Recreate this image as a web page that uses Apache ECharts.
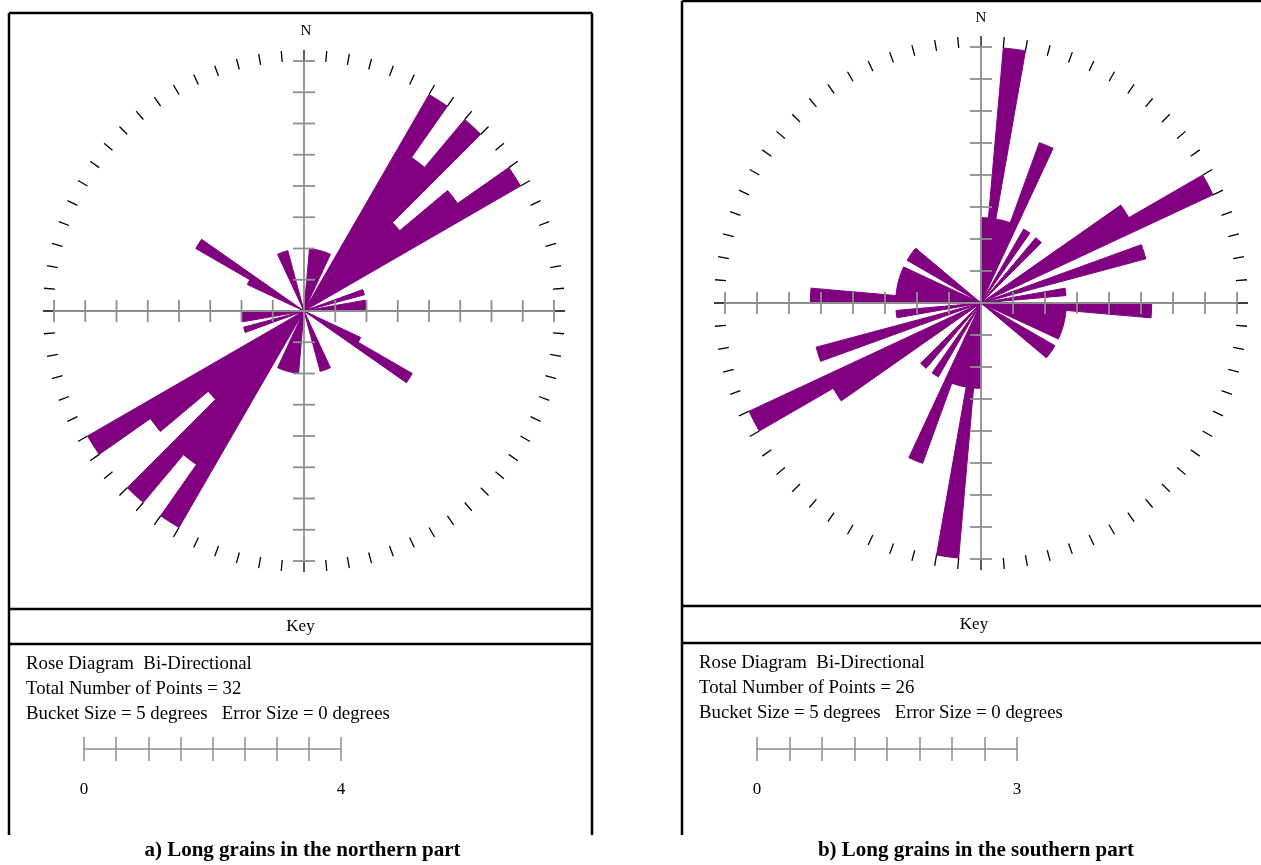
<!DOCTYPE html>
<html>
<head>
<meta charset="utf-8">
<script src="https://cdn.jsdelivr.net/npm/echarts@6/dist/echarts.min.js"></script>
<style>
  html, body { margin: 0; padding: 0; background: #ffffff; }
  #chart { width: 1261px; height: 865px; }
</style>
</head>
<body>
<div id="chart"></div>
<script>
// Rose diagrams, bi-directional, 5 degree buckets.
// Counts are given for the 0-180 degree buckets; each one is mirrored at +180.
const bucketLabels = Array.from({ length: 72 }, (_, i) => String(i * 5));

const northCounts = [
  0, 1, 1, 1, 1, 0, 4, 3, 4, 2, 3, 4,
  0, 0, 1, 0, 1, 1, 0, 0, 0, 0, 0, 1,
  2, 0, 0, 0, 0, 0, 0, 1, 1, 0, 0, 0
];
const southCounts = [
  1, 3, 1, 1, 2, 0, 1, 0, 1, 0, 0, 2,
  3, 0, 2, 0, 1, 0, 2, 1, 1, 1, 1, 0,
  1, 1, 0, 0, 0, 0, 0, 0, 0, 0, 0, 0
];

const northMax = 4;
const southMax = 3;
const northScaleLabels = ['0', '4'];
const southScaleLabels = ['0', '3'];
const northPoints = 32;
const southPoints = 26;
const bucketSize = 5;
const errorSize = 0;
const compassDirections = [0, 90, 180, 270];

const captions = ['a) Long grains in the northern part', 'b) Long grains in the southern part'];

const PURPLE = '#800080';
const GREY = '#8e8e8e';
const SERIF = '"Liberation Serif", "Times New Roman", serif';

// panel layout
const panels = [
  { cx: 304, cy: 311, R: 250, max: northMax, counts: northCounts, labels: northScaleLabels,
    points: northPoints, left: 9, right: 592, top: 13, bottom: 835, keyTop: 609, keyBottom: 644,
    textX: 26, textY: 664, scaleX: 84, scaleW: 257, scaleY: 749, nY: 31, nX: 306 },
  { cx: 981, cy: 303, R: 256, max: southMax, counts: southCounts, labels: southScaleLabels,
    points: southPoints, left: 682, right: 1266, top: 1, bottom: 835, keyTop: 606, keyBottom: 643,
    textX: 699, textY: 663, scaleX: 757, scaleW: 260, scaleY: 749, nY: 18, nX: 981 }
];

function mirrored(counts) {
  return counts.concat(counts);
}

const polar = [], angleAxis = [], radiusAxis = [], series = [];
const grid = [], xAxis = [], yAxis = [], graphic = [];

panels.forEach((p, k) => {
  const barPolar = k * 2, crossPolar = k * 2 + 1;
  polar.push({ center: [p.cx, p.cy], radius: p.R });
  polar.push({ center: [p.cx, p.cy], radius: p.R });

  // direction ring: one tick every bucket
  angleAxis.push({
    polarIndex: barPolar, type: 'category', data: bucketLabels,
    startAngle: 90, clockwise: true, boundaryGap: true,
    axisLine: { show: false },
    axisTick: { show: true, interval: 0, length: 11, lineStyle: { color: '#000', width: 1.3 } },
    axisLabel: { show: false }, splitLine: { show: false }, splitArea: { show: false }
  });
  angleAxis.push({
    polarIndex: crossPolar, type: 'value', min: 0, max: 360,
    startAngle: 90, clockwise: true, show: false
  });
  radiusAxis.push({ polarIndex: barPolar, type: 'value', min: 0, max: p.max, show: false });
  radiusAxis.push({ polarIndex: crossPolar, type: 'value', min: 0, max: p.max, show: false });

  series.push({
    type: 'bar', coordinateSystem: 'polar', polarIndex: barPolar,
    data: mirrored(p.counts), barCategoryGap: '0%', barGap: '0%',
    itemStyle: { color: PURPLE, borderColor: PURPLE, borderWidth: 1 },
    silent: true, animation: false, z: 2
  });

  // N-S and E-W axes with their scale ticks
  const tickValues = Array.from({ length: 8 }, (_, i) => (i + 1) * p.max / 8);
  series.push({
    type: 'custom', coordinateSystem: 'polar', polarIndex: crossPolar,
    data: compassDirections.map(d => [p.max, d]),
    silent: true, animation: false, z: 5,
    renderItem: function (params, api) {
      const dir = api.value(1);
      const o = api.coord([0, dir]);
      const e = api.coord([api.value(0), dir]);
      const len = Math.hypot(e[0] - o[0], e[1] - o[1]) || 1;
      const nx = -(e[1] - o[1]) / len, ny = (e[0] - o[0]) / len;
      const children = [{
        type: 'line', shape: { x1: o[0], y1: o[1], x2: e[0], y2: e[1] },
        style: { stroke: GREY, lineWidth: 1.8 }
      }];
      tickValues.forEach(t => {
        const q = api.coord([t, dir]);
        children.push({
          type: 'line',
          shape: { x1: q[0] - nx * 11, y1: q[1] - ny * 11, x2: q[0] + nx * 11, y2: q[1] + ny * 11 },
          style: { stroke: GREY, lineWidth: 1.8 }
        });
      });
      return { type: 'group', children: children };
    }
  });

  // key scale bar
  grid.push({ left: p.scaleX, width: p.scaleW, top: p.scaleY - 40, height: 40 });
  const gi = grid.length - 1;
  yAxis.push({ gridIndex: gi, type: 'value', min: 0, max: 1, show: false });
  xAxis.push({
    gridIndex: gi, type: 'value', min: 0, max: p.max, interval: p.max / 8, position: 'bottom',
    axisLine: { show: true, onZero: false, lineStyle: { color: GREY, width: 1.5 } },
    axisTick: { show: true, length: 12, lineStyle: { color: GREY, width: 1.5 } },
    axisLabel: {
      show: true, margin: 32, color: '#000', fontFamily: SERIF, fontSize: 17,
      showMinLabel: true, showMaxLabel: true,
      formatter: v => (v === 0 ? p.labels[0] : (Math.abs(v - p.max) < 1e-9 ? p.labels[1] : ''))
    },
    splitLine: { show: false }
  });
  xAxis.push({
    gridIndex: gi, type: 'value', min: 0, max: p.max, interval: p.max / 8, position: 'bottom',
    axisLine: { show: false, onZero: false },
    axisTick: { show: true, inside: true, length: 12, lineStyle: { color: GREY, width: 1.5 } },
    axisLabel: { show: false }, splitLine: { show: false }
  });

  // frame
  const frame = { stroke: '#000', lineWidth: 2.5 };
  graphic.push(
    { type: 'line', shape: { x1: p.left, y1: p.top, x2: p.right, y2: p.top }, style: frame },
    { type: 'line', shape: { x1: p.left, y1: p.top, x2: p.left, y2: p.bottom }, style: frame },
    { type: 'line', shape: { x1: p.right, y1: p.top, x2: p.right, y2: p.bottom }, style: frame },
    { type: 'line', shape: { x1: p.left, y1: p.keyTop, x2: p.right, y2: p.keyTop }, style: frame },
    { type: 'line', shape: { x1: p.left, y1: p.keyBottom, x2: p.right, y2: p.keyBottom }, style: frame }
  );

  const txt = (x, y, text, size, align, weight) => ({
    type: 'text', x: x, y: y, z: 10,
    style: { text: text, fill: '#000', font: (weight || 'normal') + ' ' + size + 'px ' + SERIF,
             textAlign: align, textVerticalAlign: 'middle' }
  });
  graphic.push(
    txt(p.nX, p.nY, 'N', 15, 'center'),
    txt((p.left + p.right) / 2, (p.keyTop + p.keyBottom) / 2, 'Key', 17, 'center'),
    txt(p.textX, p.textY, 'Rose Diagram  Bi-Directional', 18.8, 'left'),
    txt(p.textX, p.textY + 25, 'Total Number of Points = ' + p.points, 18.8, 'left'),
    txt(p.textX, p.textY + 50, 'Bucket Size = ' + bucketSize + ' degrees   Error Size = ' + errorSize + ' degrees', 18.8, 'left'),
    txt((p.left + p.right) / 2 + 2, 851, captions[k], 21, 'center', 'bold')
  );
});

const chart = echarts.init(document.getElementById('chart'), null, { renderer: 'canvas' });
chart.setOption({
  backgroundColor: '#ffffff',
  animation: false,
  polar: polar,
  angleAxis: angleAxis,
  radiusAxis: radiusAxis,
  grid: grid,
  xAxis: xAxis,
  yAxis: yAxis,
  series: series,
  graphic: graphic
});
</script>
</body>
</html>
